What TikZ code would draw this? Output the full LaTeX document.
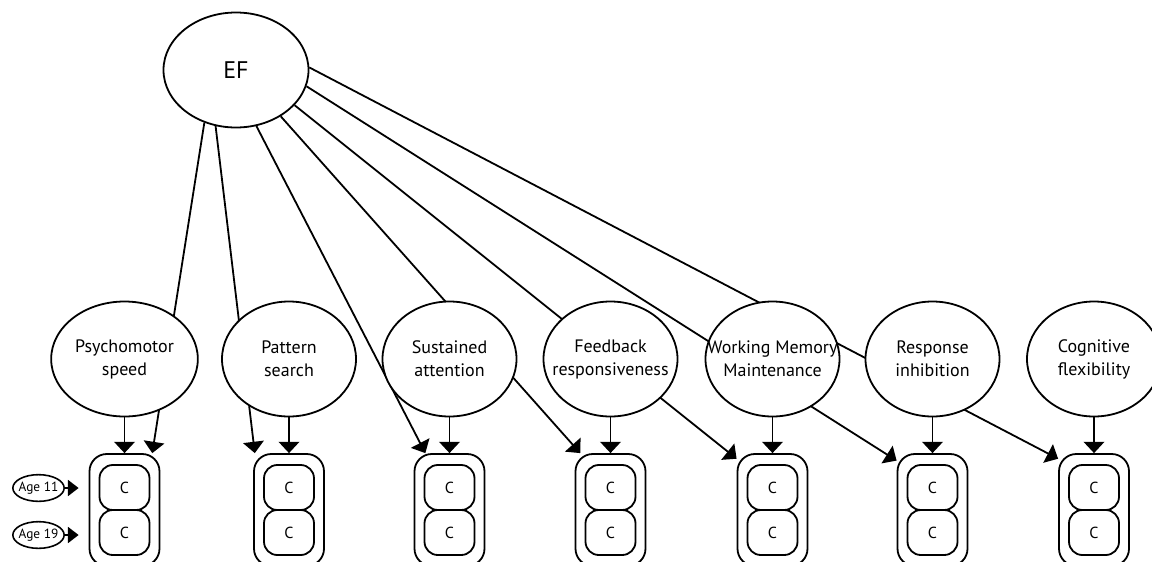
\documentclass[tikz,border=0pt]{standalone}
\usepackage{fontspec}
\setmainfont{PT Sans}
\usetikzlibrary{arrows.meta,shapes.geometric,backgrounds}
\newcommand{\nowidth}[1]{\makebox[0pt]{#1}}
\tikzset{latent/.style={ellipse,draw,line width=1.35pt,fill=white,inner sep=0pt,align=center,
    minimum width=100.5pt,minimum height=86.25pt,font=\fontsize{13.5}{17.25}\selectfont},
  agetag/.style={ellipse,draw,line width=1.2pt,fill=white,inner sep=0pt,
    minimum width=38.5pt,minimum height=20pt,font=\fontsize{10}{11}\selectfont},
  wave/.style={draw,line width=1.35pt,rounded corners=13pt,minimum width=52.5pt,minimum height=84pt,inner sep=0pt},
  score/.style={draw,line width=1.35pt,rounded corners=10pt,minimum width=37.5pt,minimum height=33.75pt,
    inner sep=0pt,font=\fontsize{12}{14}\selectfont},
  load/.style={-{Triangle[length=8.5pt,width=15.5pt]},line width=1.35pt},
  agein/.style={-{Triangle[length=8pt,width=12pt]},line width=1.35pt,shorten >=7.5pt}}

\begin{document}
\begin{tikzpicture}[x=0.75pt,y=-0.75pt]
\useasboundingbox (0,0) rectangle (1152,561);
\clip (0,0) rectangle (1152,561);
\node[latent,minimum width=108.75pt,font=\fontsize{18}{20}\selectfont] (ef) at (236,70) {EF};
% one factor per task, scored at both ages
\foreach \name/\xpos/\ewidth/\one/\two in {psy/124.5/110/Psychomotor/speed,
    pat/289/100.5/Pattern/search, sus/449.5/100.5/Sustained/attention,
    fbk/610.5/100.5/Feedback/responsiveness, wmm/772.5/100.5/Working Memory/Maintenance,
    rin/932.5/100.5/Response/inhibition, cfl/1094/100.5/Cognitive/flexibility}{
  \node[latent,minimum width=\ewidth pt] (\name) at (\xpos,359) {\nowidth{\one}\\\nowidth{\two}};
  \node[wave] (\name-box) at (\xpos,510) {};
  \node[score] (\name-t1) at (\xpos,487.5) {C};
  \node[score] (\name-t2) at (\xpos,532.5) {C};
  \draw[load] (\name) -- (\name-box);
}
% EF loadings run behind the factor ellipses
\begin{pgfonlayer}{background}
\foreach \from/\to/\at in {239/psy/64, 250/pat/121, 290/sus/113, 314/fbk/118,
    329/wmm/125, 347/rin/126, 2/cfl/125}
  \draw[load] (ef.\from) -- (\to-box.\at);
\end{pgfonlayer}
\node[agetag] (a11) at (38.5,488) {\nowidth{Age 11}};
\node[agetag] (a19) at (38.5,535) {\nowidth{Age 19}};
\draw[agein] (a11) -- (a11 -| psy-box.west);
\draw[agein] (a19) -- (a19 -| psy-box.west);
\end{tikzpicture}
\end{document}
